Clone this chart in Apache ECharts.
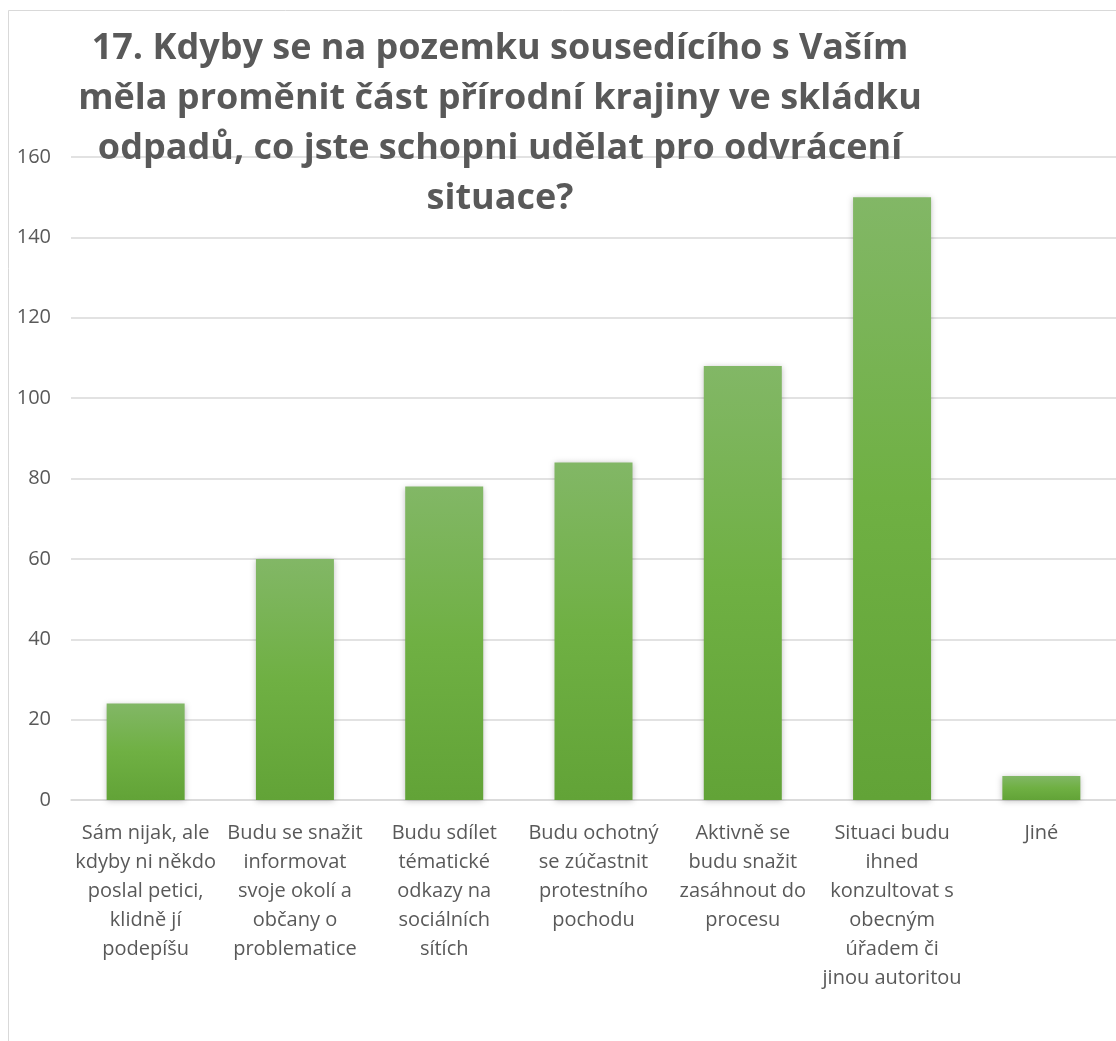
<!DOCTYPE html>
<html>
<head>
<meta charset="utf-8">
<script src="https://cdn.jsdelivr.net/npm/echarts@6/dist/echarts.min.js"></script>
<style>
html, body { margin: 0; padding: 0; background: #fff; }
#chart { width: 1116px; height: 1041px; }
</style>
</head>
<body>
<div id="chart"></div>
<script>
// data
var titleText = '17. Kdyby se na pozemku sousedícího s Vaším\nměla proměnit část přírodní krajiny ve skládku\nodpadů, co jste schopni udělat pro odvrácení\nsituace?';
var categories = [
    'Sám nijak, ale\nkdyby ni někdo\nposlal petici,\nklidně jí\npodepíšu',
    'Budu se snažit\ninformovat\nsvoje okolí a\nobčany o\nproblematice',
    'Budu sdílet\ntématické\nodkazy na\nsociálních\nsítích',
    'Budu ochotný\nse zúčastnit\nprotestního\npochodu',
    'Aktivně se\nbudu snažit\nzasáhnout do\nprocesu',
    'Situaci budu\nihned\nkonzultovat s\nobecným\núřadem či\njinou autoritou',
    'Jiné'
];
var values = [24, 60, 78, 84, 108, 150, 6];
var yMin = 0, yMax = 160, yStep = 20;

var fontFam = '"Open Sans", sans-serif';
var myChart = echarts.init(document.getElementById('chart'));

var option = {
    backgroundColor: '#fff',
    animation: false,
    // ramecek grafu
    graphic: [{
        type: 'rect',
        shape: { x: 8.5, y: 10.5, width: 1200, height: 1100 },
        style: { fill: 'none', stroke: '#d9d9d9', lineWidth: 1 },
        z: -1
    }],
    title: {
        text: titleText,
        left: 495,
        textAlign: 'center',
        top: 19,
        textStyle: {
            color: '#595959',
            fontSize: 36,
            fontWeight: 'bold',
            fontFamily: fontFam,
            lineHeight: 50
        },
        z: 10
    },
    grid: {
        left: 71,
        top: 157,
        width: 1050,
        height: 643
    },
    xAxis: {
        type: 'category',
        data: categories,
        axisTick: { show: false },
        axisLine: { lineStyle: { color: '#d9d9d9', width: 1.5 } },
        axisLabel: {
            interval: 0,
            margin: 19,
            color: '#595959',
            fontSize: 20,
            fontFamily: fontFam,
            lineHeight: 29,
            align: 'center'
        }
    },
    yAxis: {
        type: 'value',
        min: yMin,
        max: yMax,
        interval: yStep,
        axisLine: { show: false },
        axisTick: { show: false },
        splitLine: { lineStyle: { color: '#d9d9d9', width: 1.5 } },
        axisLabel: {
            margin: 20,
            color: '#595959',
            fontSize: 20,
            fontFamily: fontFam
        }
    },
    series: [{
        type: 'bar',
        data: values,
        barWidth: 78,
        itemStyle: {
            color: new echarts.graphic.LinearGradient(0, 0, 0, 1, [
                { offset: 0, color: '#82b766' },
                { offset: 0.5, color: '#6fb043' },
                { offset: 1, color: '#62a337' }
            ]),
            shadowBlur: 6,
            shadowColor: 'rgba(0,0,0,0.25)',
            shadowOffsetX: 0,
            shadowOffsetY: 1
        }
    }]
};
myChart.setOption(option);
</script>
</body>
</html>
